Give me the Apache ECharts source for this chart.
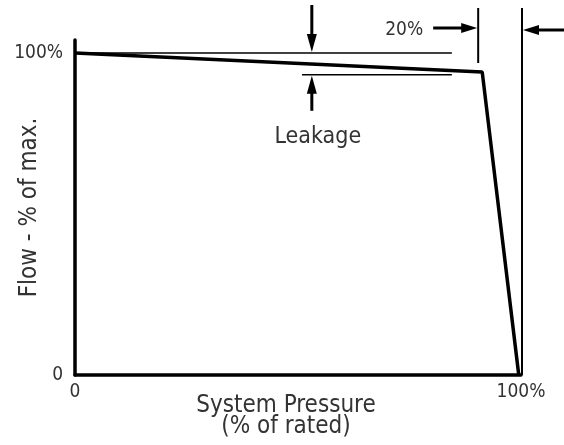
<!DOCTYPE html>
<html>
<head>
<meta charset="utf-8">
<script src="https://cdn.jsdelivr.net/npm/echarts@6/dist/echarts.min.js"></script>
<style>
  html, body { margin: 0; padding: 0; background: #fff; }
  #chart { width: 564px; height: 445px; }
</style>
</head>
<body>
<div id="chart"></div>
<script>
// Pump characteristic: flow stays near maximum, drops sharply near rated pressure
const pressure = [0, 91.3, 99.5];      // % of rated
const flow = [100, 94.1, 0];           // % of max.
const xTicks = [0, 100];
const yTicks = [0, 100];
const xTickText = ['0', '100%'];
const yTickText = ['0', '100%'];

// Leakage dimension: two reference levels and where the arrows sit
const leakLevels = [100, 93.2];
const leakLineStart = [0, 50.9];
const leakLineEnd = 84.5;
const leakArrowAt = 53.1;

// Pressure band dimension lines
const bandEdges = [90.4, 100];
const bandLabel = '20%';

const FONT = '"Liberation Sans Narrow", "DejaVu Sans Condensed", "Liberation Sans", sans-serif';
const TEXT = '#333';

const chart = echarts.init(document.getElementById('chart'), null, { renderer: 'canvas' });

chart.setOption({
  animation: false,
  grid: { left: 75, right: 43, top: 40, bottom: 70, outerBoundsMode: 'none', containLabel: false },
  xAxis: {
    type: 'value', min: 0, max: 100,
    axisLine: { show: true, onZero: false, lineStyle: { color: '#000', width: 3.5 } },
    axisTick: { show: false },
    splitLine: { show: false },
    axisLabel: {
      customValues: xTicks,
      formatter: v => xTickText[xTicks.indexOf(v)] || '',
      fontFamily: FONT, fontSize: 19, color: TEXT, margin: 8
    },
    name: 'System Pressure\n(% of rated)',
    nameLocation: 'middle', nameGap: 20, nameMoveOverlap: false,
    nameTextStyle: { fontFamily: FONT, fontSize: 24, color: TEXT, lineHeight: 21, padding: [0, 24, 0, 0] }
  },
  yAxis: {
    type: 'value', min: 0, max: 104,
    axisLine: { show: true, lineStyle: { color: '#000', width: 3.5 } },
    axisTick: { show: false },
    splitLine: { show: false },
    axisLabel: {
      customValues: yTicks,
      formatter: v => yTickText[yTicks.indexOf(v)] || '',
      fontFamily: FONT, fontSize: 19, color: TEXT, margin: 12
    },
    name: 'Flow - % of max.',
    nameLocation: 'middle', nameGap: 33, nameRotate: 90, nameMoveOverlap: false,
    nameTextStyle: { fontFamily: FONT, fontSize: 24, color: TEXT }
  },
  series: [{
    type: 'line',
    data: pressure.map((p, i) => [p, flow[i]]),
    showSymbol: false,
    lineStyle: { color: '#000', width: 3.5 },
    z: 5
  }]
});

// Dimension lines, arrows and labels placed from data coordinates
const px = (x, y) => chart.convertToPixel({ gridIndex: 0 }, [x, y]);
const g = [];
const line = (x1, y1, x2, y2, w) => g.push({
  type: 'line', shape: { x1, y1, x2, y2 },
  style: { stroke: '#000', lineWidth: w }, z: 10
});
const head = (tip, dir, len, half) => {
  const [x, y] = tip;
  let pts;
  if (dir === 'down') pts = [[x, y], [x - half, y - len], [x + half, y - len]];
  if (dir === 'up') pts = [[x, y], [x - half, y + len], [x + half, y + len]];
  if (dir === 'right') pts = [[x, y], [x - len, y - half], [x - len, y + half]];
  if (dir === 'left') pts = [[x, y], [x + len, y - half], [x + len, y + half]];
  g.push({ type: 'polygon', shape: { points: pts }, style: { fill: '#000' }, z: 11 });
};

// leakage reference lines
const topA = px(leakLineStart[0], leakLevels[0]);
const topB = px(leakLineEnd, leakLevels[0]);
line(topA[0], topA[1], topB[0], topB[1], 1.5);
const lowA = px(leakLineStart[1], leakLevels[1]);
const lowB = px(leakLineEnd, leakLevels[1]);
line(lowA[0], lowA[1], lowB[0], lowB[1], 1.5);

// leakage arrows
const aTop = px(leakArrowAt, leakLevels[0]);
line(aTop[0], 5, aTop[0], aTop[1] - 10, 3);
head([aTop[0], aTop[1] - 1], 'down', 18, 5);
const aLow = px(leakArrowAt, leakLevels[1]);
line(aLow[0], aLow[1] + 10, aLow[0], aLow[1] + 36, 3);
head([aLow[0], aLow[1] + 1], 'up', 18, 5);
g.push({
  type: 'text', x: aLow[0] + 6, y: aLow[1] + 62,
  style: { text: 'Leakage', font: '23px ' + FONT, fill: TEXT, align: 'center', verticalAlign: 'middle' },
  z: 12
});

// pressure band lines and arrows
const bL = px(bandEdges[0], 0);
const bR = px(bandEdges[1], 0);
const bottomY = bR[1];
line(bL[0], 8, bL[0], 63, 2);
line(bR[0] + 1, 8, bR[0] + 1, bottomY, 2);
line(bL[0] - 45, 28, bL[0] - 10, 28, 3);
head([bL[0] - 1, 28], 'right', 16, 5);
line(bR[0] + 16, 30, 564, 30, 3);
head([bR[0] + 2, 30], 'left', 16, 5);
g.push({
  type: 'text', x: bL[0] - 74, y: 30,
  style: { text: bandLabel, font: '19px ' + FONT, fill: TEXT, align: 'center', verticalAlign: 'middle' },
  z: 12
});

chart.setOption({ graphic: g });
</script>
</body>
</html>
